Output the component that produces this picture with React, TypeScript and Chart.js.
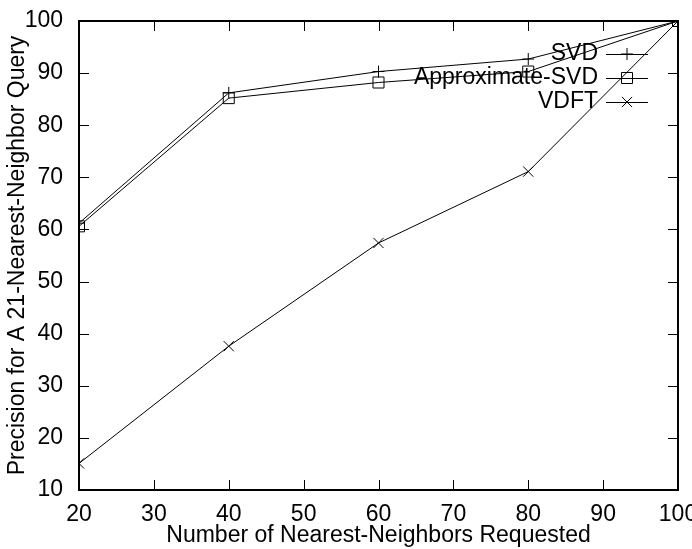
import { useEffect, useRef } from "react";
import { Chart, registerables } from "chart.js";

Chart.register(...registerables);

// Number of nearest neighbours requested (x) and precision (%) for each method
const neighborCounts = [20, 40, 60, 80, 100];
const svdPrecision = [61.2, 86.2, 90.3, 92.7, 100];
const approxSvdPrecision = [60.6, 85.2, 88.2, 90.3, 100];
const vdftPrecision = [15.1, 37.6, 57.4, 71.1, 100];

const xTickValues = [20, 30, 40, 50, 60, 70, 80, 90, 100];
const yTickValues = [10, 20, 30, 40, 50, 60, 70, 80, 90, 100];

const seriesNames = ["SVD", "Approximate-SVD", "VDFT"];
const seriesMarkers = ["cross", "rect", "crossRot"] as const;
const markerSizes = [6, 7.8, 7.2];

const FONT = "'Liberation Sans', Arial, Helvetica, sans-serif";
const FONT_SIZE = 23;
const INK = "#000000";

function drawMarker(ctx: CanvasRenderingContext2D, style: string, r: number, x: number, y: number) {
  ctx.save();
  ctx.strokeStyle = INK;
  ctx.lineWidth = 1;
  ctx.beginPath();
  if (style === "cross") {
    ctx.moveTo(x - r, y);
    ctx.lineTo(x + r, y);
    ctx.moveTo(x, y - r);
    ctx.lineTo(x, y + r);
  } else if (style === "rect") {
    const s = r * Math.SQRT1_2;
    ctx.rect(x - s, y - s, 2 * s, 2 * s);
  } else {
    const s = r * Math.SQRT1_2;
    ctx.moveTo(x - s, y - s);
    ctx.lineTo(x + s, y + s);
    ctx.moveTo(x - s, y + s);
    ctx.lineTo(x + s, y - s);
  }
  ctx.stroke();
  ctx.restore();
}

// gnuplot-style frame with inward tick marks on all four sides
const framePlugin = {
  id: "gnuplotFrame",
  beforeDatasetsDraw(chart: any) {
    const { ctx, chartArea: a, scales } = chart;
    const xs = scales.x;
    const ys = scales.y;
    const tick = 10;
    ctx.save();
    ctx.strokeStyle = INK;
    ctx.lineWidth = 1;
    ctx.beginPath();
    for (const v of xTickValues) {
      const px = Math.round(xs.getPixelForValue(v)) + 0.5;
      ctx.moveTo(px, a.bottom);
      ctx.lineTo(px, a.bottom - tick);
      ctx.moveTo(px, a.top);
      ctx.lineTo(px, a.top + tick);
    }
    for (const v of yTickValues) {
      const py = Math.round(ys.getPixelForValue(v)) + 0.5;
      ctx.moveTo(a.left, py);
      ctx.lineTo(a.left + tick, py);
      ctx.moveTo(a.right, py);
      ctx.lineTo(a.right - tick, py);
    }
    ctx.stroke();
    ctx.lineWidth = 2;
    ctx.strokeRect(a.left, a.top, a.right - a.left, a.bottom - a.top);
    ctx.restore();
  },
};

// Key in the upper right: label, sample line and marker
const keyPlugin = {
  id: "gnuplotKey",
  afterDraw(chart: any) {
    const { ctx, chartArea: a } = chart;
    const textRight = a.right - 80;
    const lineStart = a.right - 72;
    const lineEnd = a.right - 30;
    const firstY = a.top + 33;
    const step = 24;
    ctx.save();
    ctx.font = `${FONT_SIZE}px ${FONT}`;
    ctx.fillStyle = INK;
    ctx.textAlign = "right";
    ctx.textBaseline = "middle";
    seriesNames.forEach((name, i) => {
      const y = firstY + i * step;
      ctx.fillText(name, textRight, y);
      ctx.strokeStyle = INK;
      ctx.lineWidth = 1;
      ctx.beginPath();
      ctx.moveTo(lineStart, y + 0.5);
      ctx.lineTo(lineEnd, y + 0.5);
      ctx.stroke();
      drawMarker(ctx, seriesMarkers[i], markerSizes[i], (lineStart + lineEnd) / 2, y);
    });
    ctx.restore();
  },
};

export default function App() {
  const canvasRef = useRef<HTMLCanvasElement | null>(null);

  useEffect(() => {
    if (!canvasRef.current) return;
    const toPoints = (vals: number[]) => neighborCounts.map((x, i) => ({ x, y: vals[i] }));
    const allValues = [svdPrecision, approxSvdPrecision, vdftPrecision];

    const chart = new Chart(canvasRef.current, {
      type: "line",
      data: {
        datasets: allValues.map((vals, i) => ({
          label: seriesNames[i],
          data: toPoints(vals),
          borderColor: INK,
          backgroundColor: "rgba(0,0,0,0)",
          borderWidth: 1,
          pointStyle: seriesMarkers[i],
          pointRadius: markerSizes[i],
          pointBorderColor: INK,
          pointBorderWidth: 1,
          pointBackgroundColor: "rgba(0,0,0,0)",
          tension: 0,
          fill: false,
        })),
      },
      options: {
        animation: false,
        responsive: false,
        devicePixelRatio: 1,
        layout: { padding: { top: 21, right: 14, left: 0, bottom: 0 } },
        plugins: {
          legend: { display: false },
          tooltip: { enabled: false },
        },
        scales: {
          x: {
            type: "linear",
            min: 20,
            max: 100,
            afterBuildTicks: (s: any) => {
              s.ticks = xTickValues.map((v) => ({ value: v }));
            },
            afterFit: (s: any) => {
              s.height = 59;
              s.paddingLeft = 0;
              s.paddingRight = 0;
            },
            grid: { display: false },
            border: { display: false },
            ticks: {
              color: INK,
              padding: 3,
              maxRotation: 0,
              font: { family: FONT, size: FONT_SIZE },
            },
            title: {
              display: true,
              text: "Number of Nearest-Neighbors Requested",
              color: INK,
              font: { family: FONT, size: FONT_SIZE },
              padding: { top: 0, bottom: 0 },
            },
          },
          y: {
            type: "linear",
            min: 10,
            max: 100,
            afterBuildTicks: (s: any) => {
              s.ticks = yTickValues.map((v) => ({ value: v }));
            },
            afterFit: (s: any) => {
              s.width = 79;
              s.paddingTop = 0;
              s.paddingBottom = 0;
            },
            grid: { display: false },
            border: { display: false },
            ticks: {
              color: INK,
              padding: 8,
              font: { family: FONT, size: FONT_SIZE },
            },
            title: {
              display: true,
              text: "Precision for A 21-Nearest-Neighbor Query",
              color: INK,
              font: { family: FONT, size: FONT_SIZE },
              padding: { top: 4, bottom: 0 },
            },
          },
        },
      },
      plugins: [framePlugin, keyPlugin],
    });

    return () => chart.destroy();
  }, []);

  return (
    <div style={{ position: "fixed", left: 0, top: 0, width: 692, height: 549, background: "#fff" }}>
      <canvas ref={canvasRef} width={692} height={549} />
    </div>
  );
}
